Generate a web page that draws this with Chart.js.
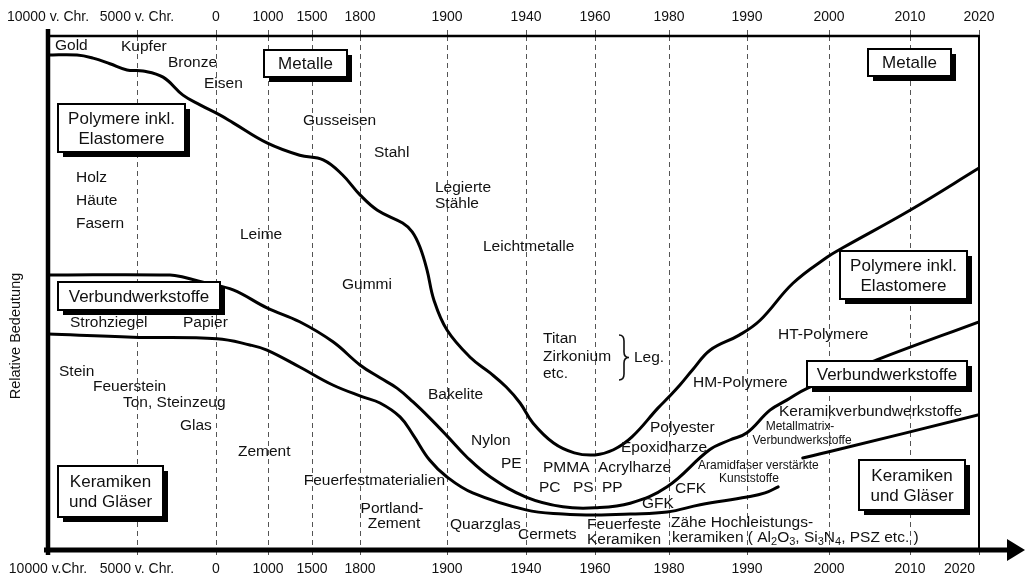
<!DOCTYPE html>
<html>
<head>
<meta charset="utf-8">
<script src="https://cdn.jsdelivr.net/npm/chart.js@4.4.1/dist/chart.umd.min.js"></script>
<style>
html,body{margin:0;padding:0;background:#fff;overflow:hidden}
#wrap{width:1026px;height:578px;position:relative}
</style>
</head>
<body>
<div id="wrap"><canvas id="c" width="1026" height="578"></canvas></div>
<script>
// ---------------- DATA ----------------
const tickYears = [-10000, -5000, 0, 1000, 1500, 1800, 1900, 1940, 1960, 1980, 1990, 2000, 2010, 2020];
const tickLabelsTop = ['10000 v. Chr.', '5000 v. Chr.', '0', '1000', '1500', '1800', '1900', '1940', '1960', '1980', '1990', '2000', '2010', '2020'];
const tickLabelsBottom = ['10000 v.Chr.', '5000 v. Chr.', '0', '1000', '1500', '1800', '1900', '1940', '1960', '1980', '1990', '2000', '2010', '2020'];

// Boundary Metalle / Polymere (relative importance, 0..100)
const metalYears = [-10000, -8370, -7470, -6520, -5560, -4620, -3350, -2090, -1010, 80, 330, 980, 1360, 1570, 1690, 1800, 1820, 1849, 1860, 1869, 1877, 1885, 1900, 1912, 1922, 1930, 1937, 1942, 1948, 1954, 1960, 1965, 1970, 1977, 1980, 1981.4, 1983, 1985.3, 1989, 1991.6, 1995.6, 1999.8, 2001.7, 2010, 2020];
const metalValues = [96.3, 96.3, 95.7, 94.6, 93.4, 93.2, 92.0, 88.5, 86.6, 84.6, 83.1, 79.2, 76.8, 75.9, 73.0, 69.1, 66.1, 63.6, 61.9, 58.9, 54.5, 48.6, 42.8, 37.4, 34.4, 31.7, 28.6, 24.7, 20.8, 18.9, 18.5, 19.5, 22.0, 27.6, 29.8, 32.1, 35.0, 38.9, 41.8, 44.7, 51.9, 57.0, 58.8, 66.1, 74.3];

// Boundary Polymere / Verbundwerkstoffe
const polymerYears = [-10000, -2910, -2090, -570, 330, 980, 1360, 1631, 1800, 1823, 1842.5, 1861, 1880, 1900, 1910, 1922, 1940, 1950.7, 1960, 1969.5, 1979.5, 1985.2, 1987.8, 1990, 1992.8, 1994.9, 1997.4, 2005.9, 2020];
const polymerValues = [53.5, 53.5, 53.1, 51.9, 50.6, 47.1, 44.4, 40.5, 36.0, 33.5, 31.5, 28.8, 25.7, 22.2, 18.1, 14.2, 10.3, 8.4, 8.2, 9.1, 12.3, 19.5, 21.4, 22.8, 27.2, 29.2, 31.5, 37.0, 44.4];

// Boundary Verbundwerkstoffe / Keramiken (interrupted around 1995)
const compositeYears = [-10000, -5220, 20, 650, 980, 1360, 1630, 1803, 1823, 1846, 1861, 1880, 1900, 1913, 1940, 1950.7, 1960, 1969.5, 1979.5, 1984, 1990, 1992.2, 1993.8, 1995, 1996.8, 2000, 2020];
const compositeValues = [42.0, 41.4, 41.1, 39.9, 38.9, 35.6, 32.1, 29.8, 28.6, 25.9, 22.4, 17.5, 14.2, 11.1, 7.8, 7.0, 6.8, 7.0, 7.4, 8.8, 10.3, 11.1, 12.3, null, 17.9, 19.1, 26.3];

// ---------------- LAYOUT / STYLE ----------------
const FONT = "'Liberation Sans', Arial, sans-serif";
const INK = '#111';
// relative widths of the axis segments between consecutive ticks (the axis is not to scale)
const segmentWidths = [89, 79, 52, 44, 48, 87, 79, 69, 74, 78, 82, 81, 69];
const axisStops = [0];
segmentWidths.forEach(w => axisStops.push(axisStops[axisStops.length - 1] + w));
const axisMax = axisStops[axisStops.length - 1];

function yearToAxis(yr) {
  for (let i = 0; i < tickYears.length - 1; i++) {
    if (yr <= tickYears[i + 1]) {
      const f = (yr - tickYears[i]) / (tickYears[i + 1] - tickYears[i]);
      return axisStops[i] + f * (axisStops[i + 1] - axisStops[i]);
    }
  }
  return axisMax;
}
function toPoints(years, values) {
  return years.map((yr, i) => ({ x: yearToAxis(yr), y: values[i] }));
}

const boxLabels = [
  { lines: ['Metalle'], x: 264, y: 50, w: 83, h: 27 },
  { lines: ['Metalle'], x: 868, y: 49, w: 83, h: 27 },
  { lines: ['Polymere inkl.', 'Elastomere'], x: 58, y: 104, w: 127, h: 48 },
  { lines: ['Verbundwerkstoffe'], x: 58, y: 282, w: 162, h: 28 },
  { lines: ['Keramiken', 'und Gläser'], x: 58, y: 466, w: 105, h: 51 },
  { lines: ['Polymere inkl.', 'Elastomere'], x: 840, y: 251, w: 127, h: 48 },
  { lines: ['Verbundwerkstoffe'], x: 807, y: 361, w: 160, h: 26 },
  { lines: ['Keramiken', 'und Gläser'], x: 859, y: 460, w: 106, h: 50 }
];

const textLabels = [
  ['Gold', 55, 46], ['Kupfer', 121, 47], ['Bronze', 168, 63], ['Eisen', 204, 84],
  ['Gusseisen', 303, 121], ['Stahl', 374, 153], ['Legierte', 435, 188], ['Stähle', 435, 204],
  ['Leichtmetalle', 483, 247], ['Holz', 76, 178], ['Häute', 76, 201], ['Fasern', 76, 224],
  ['Leime', 240, 235], ['Gummi', 342, 285], ['Titan', 543, 339], ['Zirkonium', 543, 357],
  ['etc.', 543, 374], ['Leg.', 634, 358], ['Strohziegel', 70, 323], ['Papier', 183, 323],
  ['Stein', 59, 372], ['Feuerstein', 93, 387], ['Ton, Steinzeug', 123, 403], ['Glas', 180, 426],
  ['Zement', 238, 452], ['Feuerfestmaterialien', 445, 481, 'right'], ['Bakelite', 428, 395],
  ['Nylon', 471, 441], ['PE', 501, 464], ['PMMA', 543, 468], ['PC', 539, 488], ['PS', 573, 488],
  ['Acrylharze', 598, 468], ['PP', 602, 488], ['Polyester', 650, 428], ['Epoxidharze', 621, 448],
  ['GFK', 642, 504], ['CFK', 675, 489], ['Portland-', 392, 509, 'center'], ['Zement', 394, 524, 'center'],
  ['Quarzglas', 450, 525], ['Cermets', 518, 535], ['Feuerfeste', 587, 525], ['Keramiken', 587, 540],
  ['Zähe Hochleistungs-', 671, 523], ['HM-Polymere', 693, 383], ['HT-Polymere', 778, 335],
  ['Keramikverbundwerkstoffe', 779, 412]
];
const smallLabels = [
  ['Metallmatrix-', 800, 427, 'center'], ['Verbundwerkstoffe', 802, 441, 'center'],
  ['Aramidfaser verstärkte', 698, 466, 'left'], ['Kunststoffe', 719, 479, 'left']
];
const richLabel = [['keramiken ( Al', false], ['2', true], ['O', false], ['3', true], [', Si', false], ['3', true], ['N', false], ['4', true], [', PSZ etc. )', false]];

const decor = {
  id: 'decor',
  afterDraw(chart) {
    const ctx = chart.ctx;
    const a = chart.chartArea;
    ctx.save();
    ctx.textBaseline = 'middle';
    ctx.fillStyle = INK;
    // plain labels
    ctx.font = `15.5px ${FONT}`;
    textLabels.forEach(([t, x, y, al]) => { ctx.textAlign = al || 'left'; ctx.fillText(t, x, y); });
    ctx.font = `12px ${FONT}`;
    smallLabels.forEach(([t, x, y, al]) => { ctx.textAlign = al; ctx.fillText(t, x, y); });
    // rich label with subscripts
    ctx.textAlign = 'left';
    let cx = 672;
    richLabel.forEach(([t, sub]) => {
      ctx.font = `${sub ? 11 : 15.5}px ${FONT}`;
      ctx.fillText(t, cx, 538 + (sub ? 4 : 0));
      cx += ctx.measureText(t).width;
    });
    // brace
    ctx.strokeStyle = INK; ctx.lineWidth = 1.6;
    ctx.beginPath();
    ctx.moveTo(619, 335); ctx.quadraticCurveTo(624, 335, 624, 341); ctx.lineTo(624, 352);
    ctx.quadraticCurveTo(624, 357.5, 629, 357.5); ctx.quadraticCurveTo(624, 357.5, 624, 363);
    ctx.lineTo(624, 374); ctx.quadraticCurveTo(624, 380, 619, 380);
    ctx.stroke();
    // boxed labels with shadow
    boxLabels.forEach(b => {
      ctx.fillStyle = '#000'; ctx.fillRect(b.x + 5, b.y + 5, b.w, b.h);
      ctx.fillStyle = '#fff'; ctx.fillRect(b.x, b.y, b.w, b.h);
      ctx.lineWidth = 2; ctx.strokeStyle = '#000'; ctx.strokeRect(b.x, b.y, b.w, b.h);
      ctx.fillStyle = INK; ctx.font = `17px ${FONT}`; ctx.textAlign = 'center';
      const n = b.lines.length, mx = b.x + b.w / 2, my = b.y + b.h / 2 + 1;
      b.lines.forEach((t, i) => ctx.fillText(t, mx, my + (i - (n - 1) / 2) * 20));
    });
    // frame
    ctx.strokeStyle = '#000';
    ctx.lineCap = 'butt';
    ctx.lineWidth = 2.5; ctx.beginPath(); ctx.moveTo(a.left, a.top); ctx.lineTo(a.right, a.top); ctx.stroke();
    ctx.lineWidth = 2; ctx.beginPath(); ctx.moveTo(a.right, a.top - 1); ctx.lineTo(a.right, a.bottom); ctx.stroke();
    ctx.lineWidth = 4.5; ctx.beginPath(); ctx.moveTo(a.left, a.top - 7); ctx.lineTo(a.left, a.bottom + 5); ctx.stroke();
    ctx.lineWidth = 5; ctx.beginPath(); ctx.moveTo(a.left - 4, a.bottom); ctx.lineTo(1010, a.bottom); ctx.stroke();
    ctx.fillStyle = '#000';
    ctx.beginPath(); ctx.moveTo(1007, a.bottom - 11); ctx.lineTo(1025, a.bottom); ctx.lineTo(1007, a.bottom + 11); ctx.closePath(); ctx.fill();
    // y axis title
    ctx.translate(15.5, 336); ctx.rotate(-Math.PI / 2);
    ctx.font = `14.5px ${FONT}`; ctx.textAlign = 'center'; ctx.fillStyle = INK;
    ctx.fillText('Relative Bedeutung', 0, 0);
    ctx.restore();
  }
};

const setTicks = s => { s.ticks = axisStops.map(v => ({ value: v })); };
const lineStyle = { borderColor: '#000', borderWidth: 3, pointRadius: 0, fill: false, tension: 0.4, spanGaps: false, borderJoinStyle: 'round', borderCapStyle: 'round' };

new Chart(document.getElementById('c'), {
  type: 'line',
  data: {
    datasets: [
      Object.assign({ label: 'Metalle | Polymere', data: toPoints(metalYears, metalValues) }, lineStyle),
      Object.assign({ label: 'Polymere | Verbundwerkstoffe', data: toPoints(polymerYears, polymerValues) }, lineStyle),
      Object.assign({ label: 'Verbundwerkstoffe | Keramiken', data: toPoints(compositeYears, compositeValues) }, lineStyle)
    ]
  },
  options: {
    responsive: false,
    animation: false,
    devicePixelRatio: 1,
    layout: { padding: { left: 48, right: 47, top: 0, bottom: 0 } },
    plugins: { legend: { display: false }, tooltip: { enabled: false } },
    scales: {
      x: {
        type: 'linear', position: 'bottom', min: 0, max: axisMax,
        afterBuildTicks: setTicks,
        afterFit: s => { s.height = 28; },
        grid: { drawOnChartArea: true, drawTicks: true, tickLength: 5, color: '#555', lineWidth: 1 },
        border: { display: false, dash: [5, 4] },
        ticks: {
          autoSkip: false, maxRotation: 0, minRotation: 0, padding: 6, color: INK,
          font: { family: FONT, size: 14 },
          callback: (v, i) => i === tickLabelsBottom.length - 1 ? tickLabelsBottom[i] + '          ' : tickLabelsBottom[i]
        }
      },
      x2: {
        type: 'linear', position: 'top', min: 0, max: axisMax,
        afterBuildTicks: setTicks,
        afterFit: s => { s.height = 36; },
        grid: { drawOnChartArea: false, drawTicks: true, tickLength: 6, color: '#555', lineWidth: 1 },
        border: { display: false, dash: [5, 4] },
        ticks: {
          autoSkip: false, maxRotation: 0, minRotation: 0, padding: 4, color: INK,
          font: { family: FONT, size: 14 },
          callback: (v, i) => tickLabelsTop[i]
        }
      },
      y: { display: false, min: 0, max: 100 }
    }
  },
  plugins: [decor]
});
</script>
</body>
</html>
